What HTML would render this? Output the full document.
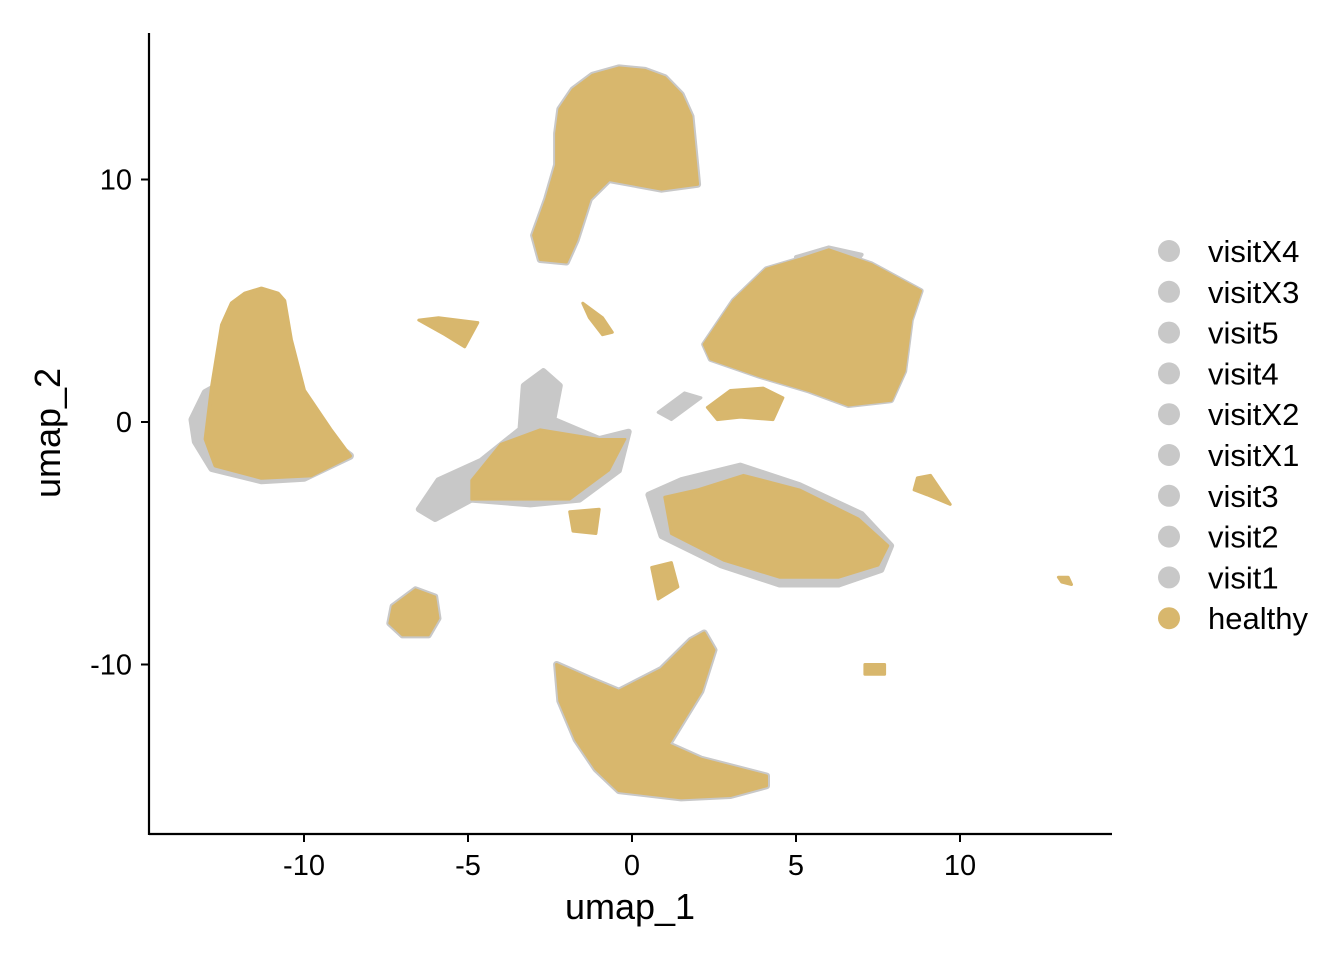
<!DOCTYPE html>
<html><head><meta charset="utf-8"><style>
html,body{margin:0;padding:0;background:#fff;}
svg{display:block;font-family:"Liberation Sans",Arial,sans-serif;}
</style></head><body>
<svg id="chart" width="1344" height="960" viewBox="0 0 1344 960">
<g id="clusters"></g>
<g id="axes"></g>
<g id="legend"></g>
</svg>
<script>
const xTicks=[-10,-5,0,5,10];
const yTicks=[10,0,-10];
const legendLabels=["visitX4","visitX3","visit5","visit4","visitX2","visitX1","visit3","visit2","visit1","healthy"];
const legendColors=["#C8C8C8","#C8C8C8","#C8C8C8","#C8C8C8","#C8C8C8","#C8C8C8","#C8C8C8","#C8C8C8","#C8C8C8","#D8B76D"];
// cluster outlines in UMAP data coordinates [umap_1, umap_2]
const clusterLeftTan=[[-13.0,-0.7],[-12.8,1.5],[-12.5,4.0],[-12.2,4.9],[-11.8,5.3],[-11.3,5.5],[-10.8,5.3],[-10.6,5.0],[-10.4,3.4],[-10.0,1.3],[-9.2,-0.3],[-8.6,-1.4],[-9.8,-2.2],[-11.3,-2.3],[-12.7,-1.8]];
const clusterLeftGrey=[[-13.4,0.1],[-13.0,1.2],[-12.2,1.8],[-11.0,0],[-9.5,-0.5],[-8.6,-1.4],[-10,-2.3],[-11.3,-2.4],[-12.8,-1.9],[-13.3,-0.8]];
const clusterTopTan=[[-2.3,11.9],[-2.2,12.9],[-1.8,13.7],[-1.2,14.3],[-0.4,14.6],[0.4,14.5],[1.0,14.2],[1.5,13.5],[1.8,12.6],[1.9,11.2],[2.0,9.8],[0.9,9.6],[-0.7,10.0],[-1.3,9.2],[-1.7,7.5],[-2.0,6.6],[-2.8,6.7],[-3.0,7.7],[-2.6,9.2],[-2.3,10.6]];
const clusterRightTan=[[2.2,3.2],[3.1,5.0],[4.1,6.3],[5.1,6.7],[6.0,7.1],[7.3,6.5],[8.8,5.4],[8.5,4.2],[8.3,2.1],[7.9,0.9],[6.6,0.7],[5.4,1.3],[3.9,1.9],[2.4,2.6]];
const clusterRightGrey=[[5.0,6.8],[6.0,7.2],[7.0,6.9],[6.5,6.0],[5.5,6.2]];
const clusterMidGrey=[[-6.5,-3.6],[-5.9,-2.4],[-4.6,-1.6],[-3.4,-0.3],[-3.3,1.5],[-2.7,2.1],[-2.2,1.5],[-2.4,0.1],[-1.0,-0.7],[-0.1,-0.4],[-0.4,-2.0],[-1.6,-3.2],[-3.1,-3.4],[-4.9,-3.2],[-6.0,-4.0]];
const clusterMidTan=[[-4.9,-2.4],[-4.0,-0.9],[-2.8,-0.3],[-1.0,-0.7],[-0.2,-0.7],[-0.7,-2.0],[-1.9,-3.2],[-3.7,-3.2],[-4.9,-3.2]];
const clusterLowerGrey=[[0.5,-3.0],[1.5,-2.4],[3.3,-1.8],[5.1,-2.6],[7.0,-3.8],[7.9,-5.1],[7.6,-6.1],[6.3,-6.7],[4.5,-6.7],[2.7,-5.9],[0.9,-4.7]];
const clusterLowerTan=[[1.0,-3.1],[2.0,-2.8],[3.4,-2.2],[5.1,-2.8],[6.9,-4.0],[7.8,-5.1],[7.5,-5.9],[6.3,-6.4],[4.5,-6.4],[2.8,-5.7],[1.2,-4.6]];
const clusterBottomTan=[[-2.3,-10.0],[-1.3,-10.6],[-0.4,-11.1],[0.9,-10.2],[1.8,-9.0],[2.2,-8.7],[2.5,-9.4],[2.1,-11.1],[1.1,-13.3],[2.1,-13.9],[4.1,-14.6],[4.1,-15.0],[3.0,-15.4],[1.5,-15.5],[-0.4,-15.2],[-1.1,-14.3],[-1.7,-13.1],[-2.2,-11.5]];
const clusterSmallA=[[-7.3,-7.6],[-6.6,-6.9],[-6.0,-7.2],[-5.9,-8.1],[-6.2,-8.8],[-7.0,-8.8],[-7.4,-8.3]];
const clusterSmallB=[[-6.5,4.2],[-5.9,4.3],[-4.7,4.1],[-5.1,3.1],[-5.7,3.6]];
const clusterSmallC=[[-1.5,4.9],[-0.9,4.3],[-0.6,3.7],[-0.9,3.6],[-1.3,4.3]];
const clusterSmallD=[[2.3,0.6],[3.0,1.3],[4.0,1.4],[4.6,1.0],[4.3,0.1],[3.3,0.2],[2.6,0.1]];
const clusterSmallE=[[0.6,-6.0],[1.2,-5.8],[1.4,-6.8],[0.8,-7.3]];
const clusterSmallF=[[8.7,-2.3],[9.1,-2.2],[9.7,-3.4],[9.0,-3.0],[8.6,-2.8]];
const clusterSmallG=[[-1.9,-3.7],[-1.0,-3.6],[-1.1,-4.6],[-1.8,-4.5]];
const clusterSmallH=[[7.1,-10.0],[7.7,-10.0],[7.7,-10.4],[7.1,-10.4]];
const clusterSmallI=[[13.0,-6.4],[13.3,-6.4],[13.4,-6.7],[13.1,-6.6]];
const clusterSmallJ=[[0.8,0.4],[1.6,1.2],[2.1,1.0],[1.2,0.1]];

const X0=632,XS=32.8,Y0=422,YS=24.25;
const xs=v=>X0+v*XS, ys=v=>Y0-v*YS;
const NS="http://www.w3.org/2000/svg";
const G=document.getElementById('clusters');
function poly(pts,color,name,sw){
  const p=document.createElementNS(NS,'polygon');
  p.setAttribute('points',pts.map(q=>xs(q[0]).toFixed(1)+','+ys(q[1]).toFixed(1)).join(' '));
  p.setAttribute('fill',color);p.setAttribute('stroke',color);
  p.setAttribute('stroke-width',sw);p.setAttribute('stroke-linejoin','round');
  
  
  G.appendChild(p);
}
const GR="#C8C8C8",TN="#D8B76D";
poly(clusterLeftGrey,GR,'cluster-left-grey',8);
poly(clusterLeftTan,TN,'cluster-left',4);
poly(clusterTopTan,GR,'cluster-top-grey',7);
poly(clusterTopTan,TN,'cluster-top',3);
poly(clusterRightTan,GR,'cluster-right-grey',6);
poly(clusterRightGrey,GR,'cluster-right-grey-top',4);
poly(clusterRightTan,TN,'cluster-right',3);
poly(clusterMidGrey,GR,'cluster-middle-grey',6);
poly(clusterMidTan,TN,'cluster-middle',2);
poly(clusterLowerGrey,GR,'cluster-lower-grey',6);
poly(clusterLowerTan,TN,'cluster-lower',3);
poly(clusterBottomTan,GR,'cluster-bottom-grey',7);
poly(clusterBottomTan,TN,'cluster-bottom',3);
poly(clusterSmallA,GR,'cluster-small-a-grey',6);
poly(clusterSmallA,TN,'cluster-small-a',2);
poly(clusterSmallB,TN,'cluster-small-b',3);
poly(clusterSmallC,TN,'cluster-small-c',3);
poly(clusterSmallD,TN,'cluster-small-d',3);
poly(clusterSmallE,TN,'cluster-small-e',3);
poly(clusterSmallF,TN,'cluster-small-f',3);
poly(clusterSmallG,TN,'cluster-small-g',3);
poly(clusterSmallH,TN,'cluster-small-h',3);
poly(clusterSmallI,TN,'cluster-small-i',3);
poly(clusterSmallJ,GR,'cluster-small-j',3);

const A=document.getElementById('axes');
function el(tag,attrs,txt){const e=document.createElementNS(NS,tag);for(const k in attrs)e.setAttribute(k,attrs[k]);if(txt!==undefined)e.textContent=txt;A.appendChild(e);return e;}
let e=el('line',{x1:149,y1:834,x2:1112,y2:834,stroke:'#000','stroke-width':2.2});


e=el('line',{x1:149,y1:33,x2:149,y2:835,stroke:'#000','stroke-width':2.2});


xTicks.forEach(t=>{
  let l=el('line',{x1:xs(t),y1:834,x2:xs(t),y2:842,stroke:'#000','stroke-width':2});
  
  
  let tx=el('text',{x:xs(t),y:875,'font-size':29,'text-anchor':'middle',fill:'#000'},String(t));
  
  
});
yTicks.forEach(t=>{
  let l=el('line',{x1:141,y1:ys(t),x2:149,y2:ys(t),stroke:'#000','stroke-width':2});
  
  
  let tx=el('text',{x:132,y:ys(t)+10,'font-size':29,'text-anchor':'end',fill:'#000'},String(t));
  
  
});
e=el('text',{x:630,y:919,'font-size':36,'text-anchor':'middle',fill:'#000'},'umap_1');


e=el('text',{x:0,y:0,'font-size':36,'text-anchor':'middle',fill:'#000',transform:'translate(60,433) rotate(-90)'},'umap_2');



const L=document.getElementById('legend');
legendLabels.forEach((lab,i)=>{
  const y=251+i*40.8;
  const g=document.createElementNS(NS,'g');
  
  
  const c=document.createElementNS(NS,'circle');
  c.setAttribute('cx',1169);c.setAttribute('cy',y);c.setAttribute('r',11);c.setAttribute('fill',legendColors[i]);
  
  
  const t=document.createElementNS(NS,'text');
  t.setAttribute('x',1208);t.setAttribute('y',y+11);t.setAttribute('font-size',31);t.textContent=lab;
  
  
  g.appendChild(c);g.appendChild(t);L.appendChild(g);
});
</script>
</body></html>
